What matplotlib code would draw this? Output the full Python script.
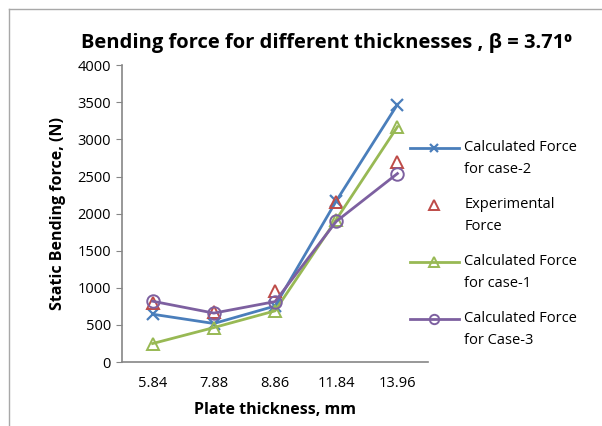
import matplotlib
matplotlib.use("Agg")
import matplotlib.pyplot as plt
from matplotlib.lines import Line2D
from matplotlib.legend_handler import HandlerLine2D

plt.rcParams['font.family'] = ['Open Sans', 'DejaVu Sans']

# plate thickness categories (mm)
thickness = ["5.84", "7.88", "8.86", "11.84", "13.96"]

# static bending force (N)
calc_case2 = [645, 520, 755, 2170, 3470]
experimental = [800, 680, 960, 2160, 2700]
calc_case1 = [250, 465, 690, 1920, 3170]
calc_case3 = [820, 660, 815, 1895, 2540]

blue = "#4A7EBB"
red = "#BE4B48"
green = "#98B954"
purple = "#7D60A0"
axis_grey = "#868686"


class FirstLineHandler(HandlerLine2D):
    """Legend handle level with the first line of a two-line label."""

    def create_artists(self, legend, orig_handle, xdescent, ydescent,
                       width, height, fontsize, trans):
        artists = super().create_artists(legend, orig_handle, xdescent, ydescent,
                                         width, height, fontsize, trans)
        for a in artists:
            a.set_ydata([y + 7.6 for y in a.get_ydata()])
        return artists


fig = plt.figure(figsize=(6.02, 4.26), dpi=100)
ax = fig.add_axes([0.2027, 0.150, 0.5083, 0.697])

x = range(len(thickness))
ax.plot(x, calc_case2, color=blue, lw=2, marker="x", ms=8, mew=1.6,
        label="Calculated Force\nfor case-2")
ax.plot(x, experimental, ls="none", marker="^", ms=9, mew=1.4,
        mfc="none", mec=red, label="Experimental\nForce")
ax.plot(x, calc_case1, color=green, lw=2, marker="^", ms=9, mew=1.4,
        mfc="none", label="Calculated Force\nfor case-1")
ax.plot(x, calc_case3, color=purple, lw=2, marker="o", ms=9, mew=1.4,
        mfc="none", label="Calculated Force\nfor Case-3")

ax.set_xlim(-0.5, len(thickness) - 0.5)
ax.set_ylim(0, 4000)
ax.set_xticks(list(x))
ax.set_xticklabels(thickness)
ax.set_yticks(range(0, 4001, 500))

for side in ("top", "right"):
    ax.spines[side].set_visible(False)
for side in ("left", "bottom"):
    ax.spines[side].set_color(axis_grey)
    ax.spines[side].set_linewidth(1.2)
ax.tick_params(axis="y", length=4, color=axis_grey, labelsize=10.5, pad=4)
ax.tick_params(axis="x", length=0, labelsize=10.5, pad=10)

ax.set_xlabel("Plate thickness, mm", fontsize=11.5, fontweight="bold", labelpad=8)
ax.set_ylabel("Static Bending force, (N)", fontsize=11.5, fontweight="bold", labelpad=8)

fig.text(0.543, 0.900, "Bending force for different thicknesses , \u03b2 = 3.71\u2070",
         ha="center", va="center", fontsize=14.5, fontweight="bold")

leg = ax.legend(loc="upper left", bbox_to_anchor=(0.672, 0.685), bbox_transform=fig.transFigure,
                frameon=False, fontsize=10.5, handlelength=3.3, handletextpad=0.4,
                labelspacing=1.4, borderaxespad=0, markerscale=0.75,
                handler_map={Line2D: FirstLineHandler()})
for t in leg.get_texts():
    t.set_linespacing(1.6)

# outer chart frame (left and top edges)
fig.add_artist(Line2D([0.015, 0.015], [0, 0.979], transform=fig.transFigure,
                      color="#A8A8A8", lw=1.0))
fig.add_artist(Line2D([0.015, 1.0], [0.979, 0.979], transform=fig.transFigure,
                      color="#A8A8A8", lw=1.0))

fig.savefig("out.png", dpi=100)
